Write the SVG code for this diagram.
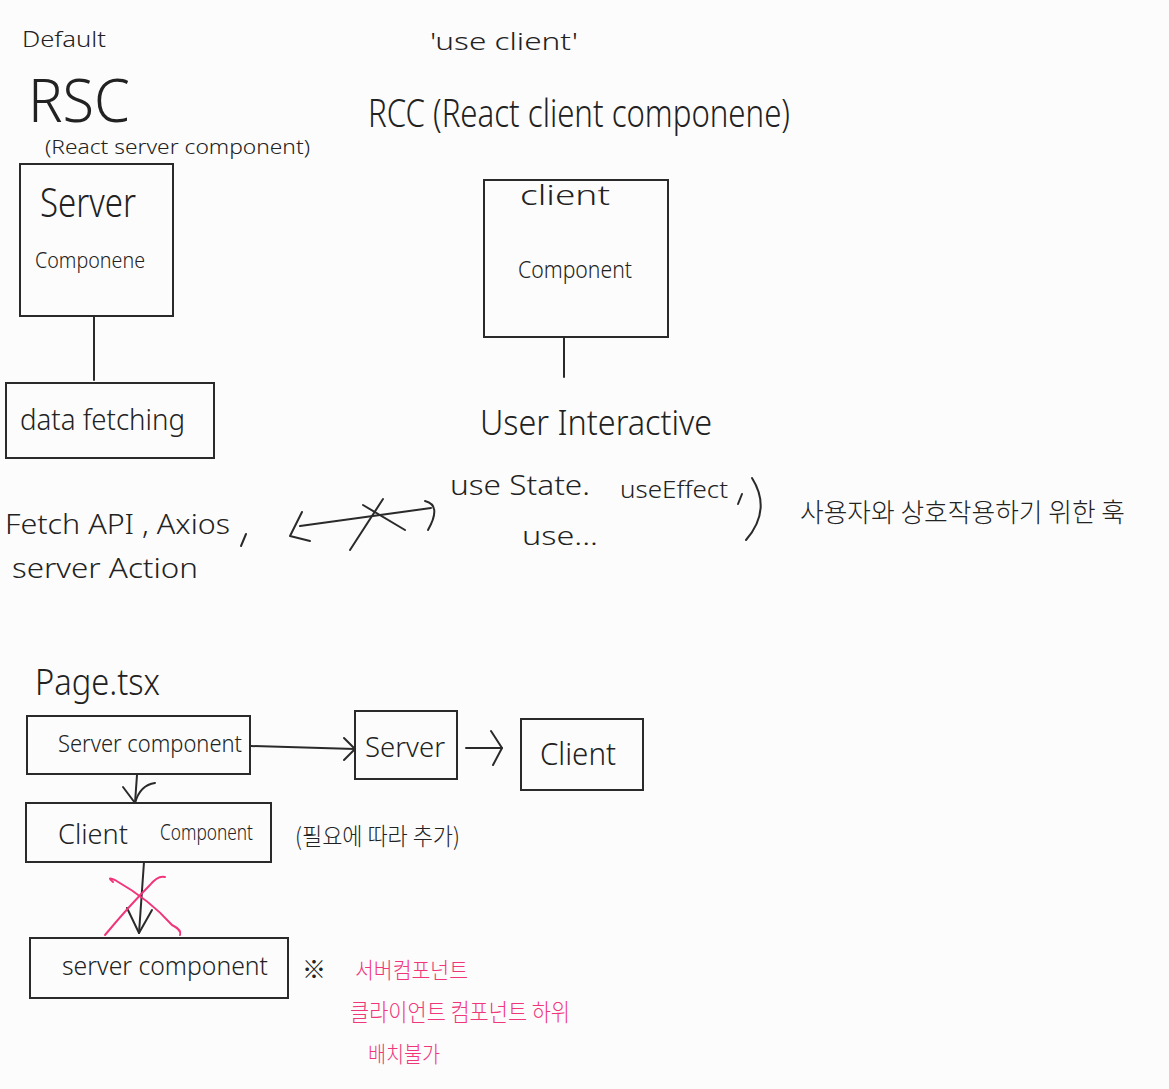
<svg xmlns="http://www.w3.org/2000/svg" width="1169" height="1089" viewBox="0 0 1169 1089">
<defs>
<style>
.bg{fill:#fcfcfc}
.box{fill:none;stroke:#2a2a2a;stroke-width:2}
.ln{fill:none;stroke:#2a2a2a;stroke-width:2;stroke-linecap:round;stroke-linejoin:round}
.pk{fill:none;stroke:#f0357a;stroke-width:2;stroke-linecap:round}
text{font-family:"Noto Sans","Noto Sans CJK KR",sans-serif;fill:#222;font-weight:300}
.kr{font-family:"Noto Sans CJK KR","Noto Sans",sans-serif}
.pt{fill:#f0357a}
</style>
</defs>
<rect class="bg" x="0" y="0" width="1169" height="1089"/>

<g id="title-rsc">
<text x="22" y="47" font-size="22" textLength="84" lengthAdjust="spacingAndGlyphs">Default</text>
<text x="28" y="122" font-size="60" textLength="102" lengthAdjust="spacingAndGlyphs">RSC</text>
<text x="45" y="154" font-size="20" textLength="265" lengthAdjust="spacingAndGlyphs">(React server component)</text>
</g>

<g id="title-rcc">
<text x="430" y="50" font-size="24" textLength="148" lengthAdjust="spacingAndGlyphs">'use client'</text>
<text x="368" y="127" font-size="38" textLength="422" lengthAdjust="spacingAndGlyphs">RCC (React client componene)</text>
</g>

<g id="node-server-component">
<rect class="box" x="20" y="164" width="153" height="152"/>
<text x="40" y="217" font-size="40" textLength="96" lengthAdjust="spacingAndGlyphs">Server</text>
<text x="35" y="268" font-size="22" textLength="110" lengthAdjust="spacingAndGlyphs">Componene</text>
</g>

<g id="node-data-fetching">
<rect class="box" x="6" y="383" width="208" height="75"/>
<text x="20" y="430" font-size="30" textLength="165" lengthAdjust="spacingAndGlyphs">data fetching</text>
</g>

<g id="node-client-component">
<rect class="box" x="484" y="180" width="184" height="157"/>
<text x="520" y="205" font-size="28" textLength="90" lengthAdjust="spacingAndGlyphs">client</text>
<text x="518" y="278" font-size="24" textLength="114" lengthAdjust="spacingAndGlyphs">Component</text>
</g>

<g id="node-user-interactive">
<text x="480" y="435" font-size="34" textLength="232" lengthAdjust="spacingAndGlyphs">User Interactive</text>
</g>

<g id="node-fetch">
<text x="5" y="534" font-size="28" textLength="225" lengthAdjust="spacingAndGlyphs">Fetch API , Axios</text>
<path class="ln" d="M246 534 L241 546"/>
<text x="12" y="578" font-size="28" textLength="186" lengthAdjust="spacingAndGlyphs">server Action</text>
</g>

<g id="node-hooks">
<text x="450" y="495" font-size="28" textLength="140" lengthAdjust="spacingAndGlyphs">use State.</text>
<text x="620" y="498" font-size="24" textLength="108" lengthAdjust="spacingAndGlyphs">useEffect</text>
<path class="ln" d="M742 494 L738 504"/>
<text x="522" y="545" font-size="26" textLength="76" lengthAdjust="spacingAndGlyphs">use...</text>
<path class="ln" d="M752 478 Q772 510 746 540"/>
<text class="kr" x="800" y="522" font-size="26" textLength="325" lengthAdjust="spacingAndGlyphs">사용자와 상호작용하기 위한 훅</text>
</g>

<g id="node-page">
<text x="35" y="695" font-size="36" textLength="125" lengthAdjust="spacingAndGlyphs">Page.tsx</text>
</g>

<g id="node-page-server">
<rect class="box" x="27" y="716" width="223" height="58"/>
<text x="58" y="752" font-size="24" textLength="184" lengthAdjust="spacingAndGlyphs">Server component</text>
</g>

<g id="node-server">
<rect class="box" x="355" y="711" width="102" height="68"/>
<text x="365" y="757" font-size="28" textLength="80" lengthAdjust="spacingAndGlyphs">Server</text>
</g>

<g id="node-client">
<rect class="box" x="521" y="719" width="122" height="71"/>
<text x="540" y="765" font-size="32" textLength="76" lengthAdjust="spacingAndGlyphs">Client</text>
</g>

<g id="node-page-client">
<rect class="box" x="26" y="803" width="245" height="59"/>
<text x="58" y="844" font-size="28" textLength="70" lengthAdjust="spacingAndGlyphs">Client</text>
<text x="160" y="840" font-size="22" textLength="93" lengthAdjust="spacingAndGlyphs">Component</text>
<text class="kr" x="295" y="845" font-size="24" textLength="165" lengthAdjust="spacingAndGlyphs">(필요에 따라 추가)</text>
</g>

<g id="node-page-server2">
<rect class="box" x="30" y="938" width="258" height="60"/>
<text x="62" y="975" font-size="25" textLength="206" lengthAdjust="spacingAndGlyphs">server component</text>
</g>

<g id="note">
<text class="kr" x="302" y="978" font-size="24">※</text>
<text class="kr pt" x="355" y="978" font-size="22" textLength="113" lengthAdjust="spacingAndGlyphs">서버컴포넌트</text>
<text class="kr pt" x="350" y="1021" font-size="24" textLength="220" lengthAdjust="spacingAndGlyphs">클라이언트 컴포넌트 하위</text>
<text class="kr pt" x="368" y="1062" font-size="22" textLength="72" lengthAdjust="spacingAndGlyphs">배치불가</text>
</g>

<g id="connectors">
<path class="ln" d="M94 316 L94 380"/>
<path class="ln" d="M564 338 L564 377"/>
<path class="ln" d="M300 526 L431 508"/>
<path class="ln" d="M302 512 L290 536 L310 541"/>
<path class="ln" d="M425 501 Q442 505 428 530"/>
<path class="ln" d="M350 550 L383 499"/>
<path class="ln" d="M363 505 L405 530"/>
<path class="ln" d="M251 746 L355 749"/>
<path class="ln" d="M344 738 L355 749 L344 760"/>
<path class="ln" d="M466 748 L502 748"/>
<path class="ln" d="M491 731 L502 748 L493 765"/>
<path class="ln" d="M137 775 L135 803"/>
<path class="ln" d="M123 787 L135 803 Q140 785 155 783"/>
<path class="ln" d="M144 862 L139 933"/>
<path class="ln" d="M127 908 L139 933 L152 910"/>
<path class="pk" d="M113 882 Q106 876 115 880 Q150 900 172 925 Q182 930 180 935"/>
<path class="pk" d="M105 935 Q130 905 150 885 Q158 875 165 877"/>
</g>
</svg>
